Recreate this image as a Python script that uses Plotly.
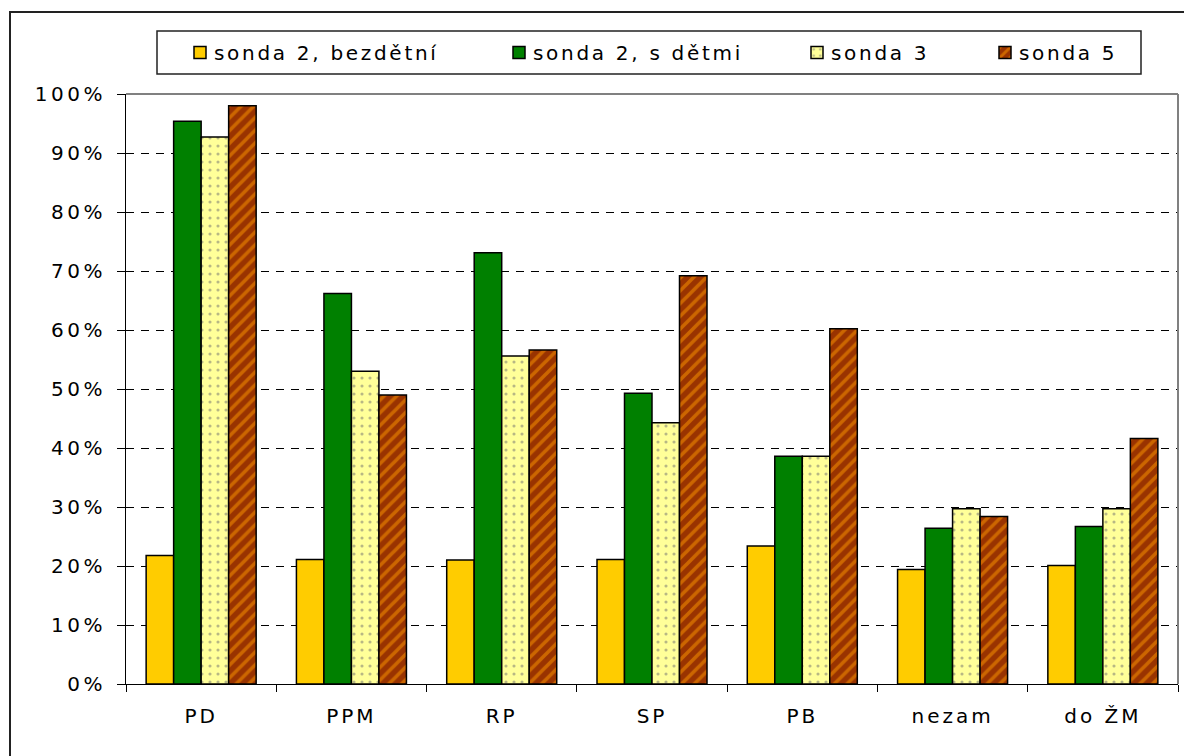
import plotly.graph_objects as go

categories = ["PD", "PPM", "RP", "SP", "PB", "nezam", "do ŽM"]
series_names = ["sonda 2, bezdětní", "sonda 2, s dětmi", "sonda 3", "sonda 5"]
sonda2_bezdetni = [0.218, 0.211, 0.210, 0.211, 0.234, 0.194, 0.201]
sonda2_s_detmi = [0.954, 0.662, 0.731, 0.493, 0.386, 0.264, 0.267]
sonda3 = [0.927, 0.530, 0.556, 0.443, 0.386, 0.297, 0.297]
sonda5 = [0.980, 0.490, 0.566, 0.692, 0.602, 0.284, 0.416]
y_ticks = [0, 0.1, 0.2, 0.3, 0.4, 0.5, 0.6, 0.7, 0.8, 0.9, 1.0]

FONT = "DejaVu Sans"
W, H = 1184, 756
L, R, T, B = 126, 1178, 94, 684


def px_x(p):
    return (p - L) / (R - L)


def px_y(p):
    return (B - p) / (B - T)


styles = [
    dict(color="#FFCC00"),
    dict(color="#008000"),
    dict(color="#FFFF99", pattern=dict(shape=".", fgcolor="#707070", bgcolor="#FFFF99",
                                         size=8, solidity=0.12)),
    dict(color="#993300", pattern=dict(shape="/", fgcolor="#FF9900", bgcolor="#993300",
                                         size=9, solidity=0.4)),
]
data = [sonda2_bezdetni, sonda2_s_detmi, sonda3, sonda5]
legend_names = ["legend", "legend2", "legend3", "legend4"]
legend_x_px = [180, 499, 797, 985]

fig = go.Figure()
for i, (name, vals, st) in enumerate(zip(series_names, data, styles)):
    fig.add_trace(go.Bar(
        x=categories, y=vals, name=name,
        marker=dict(line=dict(color="black", width=1.5), **st),
        legend=legend_names[i],
    ))

legend_common = dict(orientation="h", xanchor="left", yanchor="middle",
                     y=px_y(52.5), bgcolor="rgba(0,0,0,0)", borderwidth=0,
                     font=dict(family=FONT, size=20, color="black"))
layout_legends = {}
for ln, xp in zip(legend_names, legend_x_px):
    layout_legends[ln] = dict(x=px_x(xp), **legend_common)

fig.update_layout(
    width=W, height=H,
    margin=dict(l=L, r=W - R, t=T, b=H - B),
    paper_bgcolor="white", plot_bgcolor="white",
    barmode="group", bargap=0.268, bargroupgap=0,
    showlegend=True,
    font=dict(family=FONT, size=20, color="black"),
    **layout_legends,
)
fig.update_yaxes(
    range=[0, 1], tickvals=y_ticks, tickformat=".0%",
    showline=True, linecolor="black", linewidth=1,
    ticks="outside", ticklen=8, tickcolor="black", ticklabelstandoff=7,
    showgrid=True, gridcolor="black", gridwidth=1, griddash="8px,7px",
    zeroline=False, tickfont=dict(family=FONT, size=20, color="black"),
)
fig.update_xaxes(
    showline=True, linecolor="black", linewidth=1,
    ticks="outside", ticklen=7, tickcolor="black", tickson="boundaries",
    ticklabelstandoff=14,
    tickfont=dict(family=FONT, size=20, color="black"),
)

# plot-area border (top and right, gray)
fig.add_shape(type="line", xref="paper", yref="paper", x0=0, x1=1, y0=1, y1=1,
              line=dict(color="#808080", width=2), layer="above")
fig.add_shape(type="line", xref="paper", yref="paper", x0=1, x1=1, y0=0, y1=1,
              line=dict(color="#808080", width=2), layer="above")
# legend box
fig.add_shape(type="rect", xref="paper", yref="paper",
              x0=px_x(157), x1=px_x(1141), y0=px_y(74), y1=px_y(31),
              line=dict(color="#222222", width=1.5), layer="below")
# outer chart border
fig.add_shape(type="rect", xref="paper", yref="paper",
              x0=px_x(10), x1=px_x(1200), y0=px_y(780), y1=px_y(12),
              line=dict(color="#222222", width=2), layer="below")

post_script = """
document.body.style.margin = '0';
var st = document.createElement('style');
st.textContent =
  '.js-plotly-plot .scrollbox { clip-path: none !important; }' +
  '.js-plotly-plot text.legendtext, .js-plotly-plot text.legend2text,' +
  '.js-plotly-plot text.legend3text, .js-plotly-plot text.legend4text' +
  ' { letter-spacing: 2.7px; transform: translateX(-6px); }' +
  '.js-plotly-plot .ytick text { letter-spacing: 3.5px; }' +
  '.js-plotly-plot .xtick text { letter-spacing: 3px; }';
document.head.appendChild(st);
"""

fig.write_html("out.html", post_script=post_script,
               config={"displayModeBar": False})
